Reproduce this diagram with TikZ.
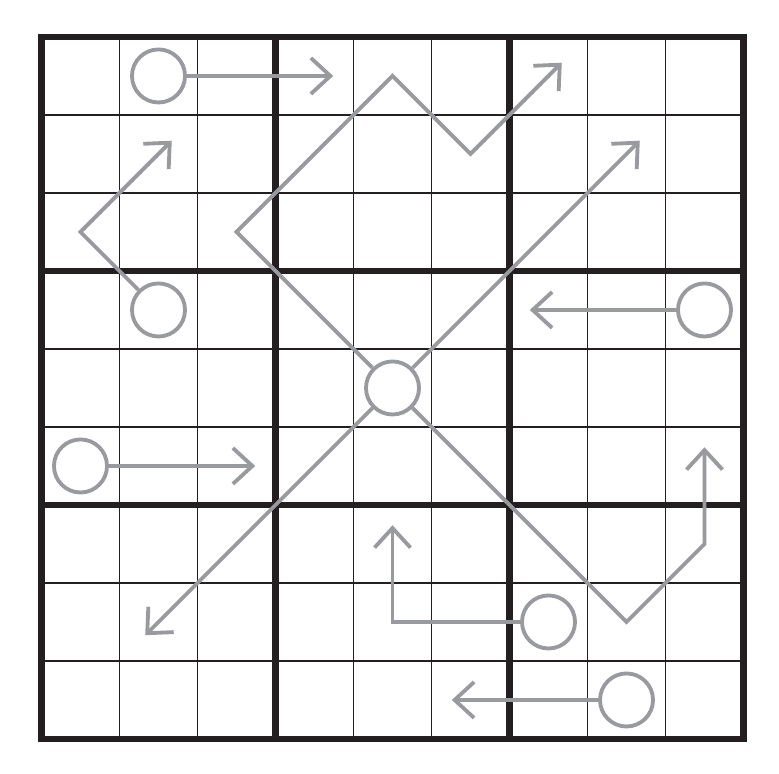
\documentclass[tikz,border=0pt]{standalone}
\usetikzlibrary{arrows.meta}

\definecolor{arrowgray}{RGB}{152,154,158}
\definecolor{gridblack}{RGB}{35,31,32}

\tikzset{
    bulb/.style={circle, draw=arrowgray, line width=1.4pt, fill=white, minimum size=0.68cm, inner sep=0pt},
    arrowline/.style={draw=arrowgray, line width=1.4pt, line join=miter,
        -{Straight Barb[length=2.5mm, width=4.6mm, line width=1.4pt]}}
}

\begin{document}
\begin{tikzpicture}
    \useasboundingbox (-0.532, -0.449) rectangle (9.455, 9.474);
    \foreach \i in {1,2,4,5,7,8} {
        \draw[gridblack, line width=0.65pt] (\i, 0) -- (\i, 9);
        \draw[gridblack, line width=0.65pt] (0, \i) -- (9, \i);
    }
    \foreach \i in {0,3,6,9} {
        \draw[gridblack, line width=2.5pt, line cap=rect] (\i, 0) -- (\i, 9);
        \draw[gridblack, line width=2.5pt, line cap=rect] (0, \i) -- (9, \i);
    }
    \node[bulb] (a) at (1.5, 8.5) {};
    \node[bulb] (b) at (1.5, 5.5) {};
    \node[bulb] (c) at (4.5, 4.5) {};
    \node[bulb] (d) at (8.5, 5.5) {};
    \node[bulb] (e) at (0.5, 3.5) {};
    \node[bulb] (f) at (6.5, 1.5) {};
    \node[bulb] (g) at (7.5, 0.5) {};
    \coordinate (ta) at (3.74, 8.5);
    \coordinate (tb) at (1.67, 7.67);
    \coordinate (tc1) at (6.67, 8.67);
    \coordinate (tc2) at (7.67, 7.67);
    \coordinate (tc3) at (1.33, 1.33);
    \coordinate (tc4) at (8.5, 3.74);
    \coordinate (td) at (6.26, 5.5);
    \coordinate (te) at (2.74, 3.5);
    \coordinate (tf) at (4.5, 2.74);
    \coordinate (tg) at (5.26, 0.5);
    \draw[arrowline] (a) -- (ta);
    \draw[arrowline] (b) -- (0.5, 6.5) -- (tb);
    \draw[arrowline] (c) -- (2.5, 6.5) -- (4.5, 8.5) -- (5.5, 7.5) -- (tc1);
    \draw[arrowline] (c) -- (tc2);
    \draw[arrowline] (c) -- (tc3);
    \draw[arrowline] (c) -- (7.5, 1.5) -- (8.5, 2.5) -- (tc4);
    \draw[arrowline] (d) -- (td);
    \draw[arrowline] (e) -- (te);
    \draw[arrowline] (f) -- (4.5, 1.5) -- (tf);
    \draw[arrowline] (g) -- (tg);
\end{tikzpicture}
\end{document}
